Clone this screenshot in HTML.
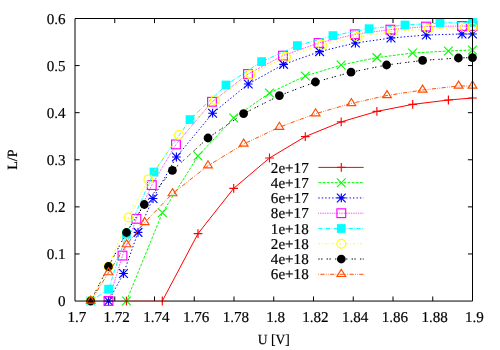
<!DOCTYPE html>
<html><head><meta charset="utf-8"><title>L/P vs U</title>
<style>
html,body{margin:0;padding:0;background:#fff;}
body{width:500px;height:350px;overflow:hidden;font-family:"Liberation Serif",serif;}
svg{display:block;will-change:transform;}
text{font-family:"Liberation Serif",serif;font-size:15.1px;fill:#000;stroke:#000;stroke-width:0.18px;text-rendering:geometricPrecision;}
</style></head><body>
<svg width="500" height="350" viewBox="0 0 500 350">
<rect width="500" height="350" fill="#fff"/>
<g text-anchor="middle"><text x="76.9" y="321.5">1.7</text><text x="116.65" y="321.5">1.72</text><text x="156.4" y="321.5">1.74</text><text x="196.15" y="321.5">1.76</text><text x="235.9" y="321.5">1.78</text><text x="275.65" y="321.5">1.8</text><text x="315.4" y="321.5">1.82</text><text x="355.15" y="321.5">1.84</text><text x="394.9" y="321.5">1.86</text><text x="434.65" y="321.5">1.88</text><text x="474.4" y="321.5">1.9</text><text transform="translate(273.75,344.4) scale(0.965,1)" style="font-size:14.1px">U [V]</text></g>
<g text-anchor="end"><text x="65.6" y="306.35">0</text><text x="65.6" y="259.26">0.1</text><text x="65.6" y="212.17">0.2</text><text x="65.6" y="165.08">0.3</text><text x="65.6" y="117.98">0.4</text><text x="65.6" y="70.89">0.5</text><text x="65.6" y="23.8">0.6</text></g>
<text transform="translate(17.2,159.6) rotate(-90)" text-anchor="middle" style="font-size:14.1px">L/P</text>
<g><text x="308.7" y="172.5" text-anchor="end">2e+17</text><path d="M318.3 167.4H363.7" stroke="#ff0000" stroke-width="1.0" fill="none"/><path d="M336.93 167.4H345.68M341.3 163.03V171.78" stroke="#ff0000" stroke-width="1.15" fill="none"/><path d="M162.3 301L198 233.6L233.7 188.4L269.5 158L305.3 136.6L341.2 121.9L376.9 111.4L412.7 104.4L448.4 100L472.5 98" stroke="#ff0000" stroke-width="1.0" fill="none" stroke-linejoin="round"/><path d="M126.45 296.62V305.38" stroke="#ff0000" stroke-width="1.15" fill="none"/><path d="M162.3 296.62V305.38" stroke="#ff0000" stroke-width="1.15" fill="none"/><path d="M193.62 233.6H202.38M198 229.22V237.97" stroke="#ff0000" stroke-width="1.15" fill="none"/><path d="M229.32 188.4H238.07M233.7 184.03V192.78" stroke="#ff0000" stroke-width="1.15" fill="none"/><path d="M265.12 158H273.88M269.5 153.62V162.38" stroke="#ff0000" stroke-width="1.15" fill="none"/><path d="M300.93 136.6H309.68M305.3 132.22V140.97" stroke="#ff0000" stroke-width="1.15" fill="none"/><path d="M336.82 121.9H345.57M341.2 117.53V126.28" stroke="#ff0000" stroke-width="1.15" fill="none"/><path d="M372.52 111.4H381.27M376.9 107.03V115.78" stroke="#ff0000" stroke-width="1.15" fill="none"/><path d="M408.32 104.4H417.07M412.7 100.03V108.78" stroke="#ff0000" stroke-width="1.15" fill="none"/><path d="M444.02 100H452.77M448.4 95.62V104.38" stroke="#ff0000" stroke-width="1.15" fill="none"/><path d="M468.12 98H476.88M472.5 93.62V102.38" stroke="#ff0000" stroke-width="1.15" fill="none"/></g>
<g><text x="308.7" y="187.77" text-anchor="end">4e+17</text><path d="M318.3 182.67H363.7" stroke="#00ff00" stroke-width="1.0" fill="none" stroke-dasharray="2.78 1.39"/><path d="M336.93 178.3L345.68 187.05M336.93 187.05L345.68 178.3" stroke="#00ff00" stroke-width="1.15" fill="none"/><path d="M126.45 301L162.4 212.8L198 156L233.7 118L269.5 93L305.3 76L341.1 65L376.9 57.6L412.6 53L448.4 51L472.5 50" stroke="#00ff00" stroke-width="1.0" fill="none" stroke-linejoin="round" stroke-dasharray="2.78 1.39"/><path d="M122.08 296.62L130.82 305.38M122.08 305.38L130.82 296.62" stroke="#00ff00" stroke-width="1.15" fill="none"/><path d="M158.03 208.43L166.78 217.18M158.03 217.18L166.78 208.43" stroke="#00ff00" stroke-width="1.15" fill="none"/><path d="M193.62 151.62L202.38 160.38M193.62 160.38L202.38 151.62" stroke="#00ff00" stroke-width="1.15" fill="none"/><path d="M229.32 113.62L238.07 122.38M229.32 122.38L238.07 113.62" stroke="#00ff00" stroke-width="1.15" fill="none"/><path d="M265.12 88.62L273.88 97.38M265.12 97.38L273.88 88.62" stroke="#00ff00" stroke-width="1.15" fill="none"/><path d="M300.93 71.62L309.68 80.38M300.93 80.38L309.68 71.62" stroke="#00ff00" stroke-width="1.15" fill="none"/><path d="M336.73 60.62L345.48 69.38M336.73 69.38L345.48 60.62" stroke="#00ff00" stroke-width="1.15" fill="none"/><path d="M372.52 53.23L381.27 61.98M372.52 61.98L381.27 53.23" stroke="#00ff00" stroke-width="1.15" fill="none"/><path d="M408.23 48.62L416.98 57.38M408.23 57.38L416.98 48.62" stroke="#00ff00" stroke-width="1.15" fill="none"/><path d="M444.02 46.62L452.77 55.38M444.02 55.38L452.77 46.62" stroke="#00ff00" stroke-width="1.15" fill="none"/><path d="M468.12 45.62L476.88 54.38M468.12 54.38L476.88 45.62" stroke="#00ff00" stroke-width="1.15" fill="none"/></g>
<g><text x="308.7" y="203.04" text-anchor="end">6e+17</text><path d="M318.3 197.94H363.7" stroke="#0000ff" stroke-width="1.0" fill="none" stroke-dasharray="1.39 2.08"/><path d="M336.93 197.94H345.68M341.3 193.56V202.31M336.93 193.56L345.68 202.31M336.93 202.31L345.68 193.56" stroke="#0000ff" stroke-width="1.15" fill="none"/><path d="M108.5 301L123.5 273.5L138 232.4L153 198.5L176.4 157L212.6 113.2L248.2 84L283.6 64.4L319.6 51.6L355.4 43L391 38L426.4 35L462 34L472.5 34" stroke="#0000ff" stroke-width="1.0" fill="none" stroke-linejoin="round" stroke-dasharray="1.39 2.08"/><path d="M104.12 301H112.88M108.5 296.62V305.38M104.12 296.62L112.88 305.38M104.12 305.38L112.88 296.62" stroke="#0000ff" stroke-width="1.15" fill="none"/><path d="M119.12 273.5H127.88M123.5 269.12V277.88M119.12 269.12L127.88 277.88M119.12 277.88L127.88 269.12" stroke="#0000ff" stroke-width="1.15" fill="none"/><path d="M133.62 232.4H142.38M138 228.03V236.78M133.62 228.03L142.38 236.78M133.62 236.78L142.38 228.03" stroke="#0000ff" stroke-width="1.15" fill="none"/><path d="M148.62 198.5H157.38M153 194.12V202.88M148.62 194.12L157.38 202.88M148.62 202.88L157.38 194.12" stroke="#0000ff" stroke-width="1.15" fill="none"/><path d="M172.03 157H180.78M176.4 152.62V161.38M172.03 152.62L180.78 161.38M172.03 161.38L180.78 152.62" stroke="#0000ff" stroke-width="1.15" fill="none"/><path d="M208.22 113.2H216.97M212.6 108.83V117.58M208.22 108.83L216.97 117.58M208.22 117.58L216.97 108.83" stroke="#0000ff" stroke-width="1.15" fill="none"/><path d="M243.82 84H252.57M248.2 79.62V88.38M243.82 79.62L252.57 88.38M243.82 88.38L252.57 79.62" stroke="#0000ff" stroke-width="1.15" fill="none"/><path d="M279.23 64.4H287.98M283.6 60.03V68.78M279.23 60.03L287.98 68.78M279.23 68.78L287.98 60.03" stroke="#0000ff" stroke-width="1.15" fill="none"/><path d="M315.23 51.6H323.98M319.6 47.23V55.98M315.23 47.23L323.98 55.98M315.23 55.98L323.98 47.23" stroke="#0000ff" stroke-width="1.15" fill="none"/><path d="M351.02 43H359.77M355.4 38.62V47.38M351.02 38.62L359.77 47.38M351.02 47.38L359.77 38.62" stroke="#0000ff" stroke-width="1.15" fill="none"/><path d="M386.62 38H395.38M391 33.62V42.38M386.62 33.62L395.38 42.38M386.62 42.38L395.38 33.62" stroke="#0000ff" stroke-width="1.15" fill="none"/><path d="M422.02 35H430.77M426.4 30.62V39.38M422.02 30.62L430.77 39.38M422.02 39.38L430.77 30.62" stroke="#0000ff" stroke-width="1.15" fill="none"/><path d="M457.62 34H466.38M462 29.62V38.38M457.62 29.62L466.38 38.38M457.62 38.38L466.38 29.62" stroke="#0000ff" stroke-width="1.15" fill="none"/><path d="M468.12 34H476.88M472.5 29.62V38.38M468.12 29.62L476.88 38.38M468.12 38.38L476.88 29.62" stroke="#0000ff" stroke-width="1.15" fill="none"/></g>
<g><text x="308.7" y="218.31" text-anchor="end">8e+17</text><path d="M318.3 213.21H363.7" stroke="#ff00ff" stroke-width="1.0" fill="none" stroke-dasharray="0.69 1.04"/><rect x="336.93" y="208.84" width="8.75" height="8.75" stroke="#ff00ff" stroke-width="1.15" fill="none"/><path d="M108.5 301L122.5 255.6L136.4 218.8L151.8 185.1L176 144.4L212 101.8L248 74L283 55.6L318.6 43L354.9 34.3L390.4 29.6L426 26.6L462 26L472.5 26" stroke="#ff00ff" stroke-width="1.0" fill="none" stroke-linejoin="round" stroke-dasharray="0.69 1.04"/><rect x="104.12" y="296.62" width="8.75" height="8.75" stroke="#ff00ff" stroke-width="1.15" fill="none"/><rect x="118.12" y="251.22" width="8.75" height="8.75" stroke="#ff00ff" stroke-width="1.15" fill="none"/><rect x="132.03" y="214.43" width="8.75" height="8.75" stroke="#ff00ff" stroke-width="1.15" fill="none"/><rect x="147.43" y="180.72" width="8.75" height="8.75" stroke="#ff00ff" stroke-width="1.15" fill="none"/><rect x="171.62" y="140.03" width="8.75" height="8.75" stroke="#ff00ff" stroke-width="1.15" fill="none"/><rect x="207.62" y="97.42" width="8.75" height="8.75" stroke="#ff00ff" stroke-width="1.15" fill="none"/><rect x="243.62" y="69.62" width="8.75" height="8.75" stroke="#ff00ff" stroke-width="1.15" fill="none"/><rect x="278.62" y="51.23" width="8.75" height="8.75" stroke="#ff00ff" stroke-width="1.15" fill="none"/><rect x="314.23" y="38.62" width="8.75" height="8.75" stroke="#ff00ff" stroke-width="1.15" fill="none"/><rect x="350.52" y="29.92" width="8.75" height="8.75" stroke="#ff00ff" stroke-width="1.15" fill="none"/><rect x="386.02" y="25.23" width="8.75" height="8.75" stroke="#ff00ff" stroke-width="1.15" fill="none"/><rect x="421.62" y="22.23" width="8.75" height="8.75" stroke="#ff00ff" stroke-width="1.15" fill="none"/><rect x="457.62" y="21.62" width="8.75" height="8.75" stroke="#ff00ff" stroke-width="1.15" fill="none"/><rect x="468.12" y="21.62" width="8.75" height="8.75" stroke="#ff00ff" stroke-width="1.15" fill="none"/></g>
<g><text x="308.7" y="233.58" text-anchor="end">1e+18</text><path d="M318.3 228.48H363.7" stroke="#00ffff" stroke-width="1.0" fill="none" stroke-dasharray="4.16 1.39 0.69 1.39"/><rect x="336.93" y="224.11" width="8.75" height="8.75" fill="#00ffff"/><path d="M90.7 301L108.6 289.2L126.4 234.2L154 172L190 119.6L226 85L261.6 61.6L297.4 45.6L333 35.6L369.1 28.7L405 25L440 23L472.5 22.4" stroke="#00ffff" stroke-width="1.0" fill="none" stroke-linejoin="round" stroke-dasharray="4.16 1.39 0.69 1.39"/><rect x="86.33" y="296.62" width="8.75" height="8.75" fill="#00ffff"/><rect x="104.22" y="284.82" width="8.75" height="8.75" fill="#00ffff"/><rect x="122.03" y="229.82" width="8.75" height="8.75" fill="#00ffff"/><rect x="149.62" y="167.62" width="8.75" height="8.75" fill="#00ffff"/><rect x="185.62" y="115.22" width="8.75" height="8.75" fill="#00ffff"/><rect x="221.62" y="80.62" width="8.75" height="8.75" fill="#00ffff"/><rect x="257.23" y="57.23" width="8.75" height="8.75" fill="#00ffff"/><rect x="293.02" y="41.23" width="8.75" height="8.75" fill="#00ffff"/><rect x="328.62" y="31.23" width="8.75" height="8.75" fill="#00ffff"/><rect x="364.73" y="24.32" width="8.75" height="8.75" fill="#00ffff"/><rect x="400.62" y="20.62" width="8.75" height="8.75" fill="#00ffff"/><rect x="435.62" y="18.62" width="8.75" height="8.75" fill="#00ffff"/><rect x="468.12" y="18.02" width="8.75" height="8.75" fill="#00ffff"/></g>
<g><text x="308.7" y="248.85" text-anchor="end">2e+18</text><path d="M318.3 243.75H363.7" stroke="#ffff00" stroke-width="1.0" fill="none" stroke-dasharray="2.08 2.08 0.69 2.08"/><circle cx="341.3" cy="243.75" r="4.38" stroke="#ffff00" stroke-width="1.15" fill="none"/><path d="M90.7 301L108.5 266.5L128.5 217.5L148.3 179.5L179 135L215 100L250.4 74.4L286 57L322 45L357.6 37L393 31.4L428.6 29L465 27.6L472.5 27.6" stroke="#ffff00" stroke-width="1.0" fill="none" stroke-linejoin="round" stroke-dasharray="2.08 2.08 0.69 2.08"/><circle cx="90.7" cy="301" r="4.38" stroke="#ffff00" stroke-width="1.15" fill="none"/><circle cx="108.5" cy="266.5" r="4.38" stroke="#ffff00" stroke-width="1.15" fill="none"/><circle cx="128.5" cy="217.5" r="4.38" stroke="#ffff00" stroke-width="1.15" fill="none"/><circle cx="148.3" cy="179.5" r="4.38" stroke="#ffff00" stroke-width="1.15" fill="none"/><circle cx="179" cy="135" r="4.38" stroke="#ffff00" stroke-width="1.15" fill="none"/><circle cx="215" cy="100" r="4.38" stroke="#ffff00" stroke-width="1.15" fill="none"/><circle cx="250.4" cy="74.4" r="4.38" stroke="#ffff00" stroke-width="1.15" fill="none"/><circle cx="286" cy="57" r="4.38" stroke="#ffff00" stroke-width="1.15" fill="none"/><circle cx="322" cy="45" r="4.38" stroke="#ffff00" stroke-width="1.15" fill="none"/><circle cx="357.6" cy="37" r="4.38" stroke="#ffff00" stroke-width="1.15" fill="none"/><circle cx="393" cy="31.4" r="4.38" stroke="#ffff00" stroke-width="1.15" fill="none"/><circle cx="428.6" cy="29" r="4.38" stroke="#ffff00" stroke-width="1.15" fill="none"/><circle cx="465" cy="27.6" r="4.38" stroke="#ffff00" stroke-width="1.15" fill="none"/><circle cx="472.5" cy="27.6" r="4.38" stroke="#ffff00" stroke-width="1.15" fill="none"/></g>
<g><text x="308.7" y="264.12" text-anchor="end">4e+18</text><path d="M318.3 259.02H363.7" stroke="#000000" stroke-width="1.0" fill="none" stroke-dasharray="1.39 1.39 1.39 4.16"/><circle cx="341.3" cy="259.02" r="4.38" fill="#000000"/><path d="M90.7 301L108.5 266.5L126.5 232.5L144.3 204.5L172.4 170.4L208 138L243.6 113.6L279.4 95.6L315.4 82L351 72.2L386.6 65L422.6 60.4L458.4 58L472.5 57.6" stroke="#000000" stroke-width="1.0" fill="none" stroke-linejoin="round" stroke-dasharray="1.39 1.39 1.39 4.16"/><circle cx="90.7" cy="301" r="4.38" fill="#000000"/><circle cx="108.5" cy="266.5" r="4.38" fill="#000000"/><circle cx="126.5" cy="232.5" r="4.38" fill="#000000"/><circle cx="144.3" cy="204.5" r="4.38" fill="#000000"/><circle cx="172.4" cy="170.4" r="4.38" fill="#000000"/><circle cx="208" cy="138" r="4.38" fill="#000000"/><circle cx="243.6" cy="113.6" r="4.38" fill="#000000"/><circle cx="279.4" cy="95.6" r="4.38" fill="#000000"/><circle cx="315.4" cy="82" r="4.38" fill="#000000"/><circle cx="351" cy="72.2" r="4.38" fill="#000000"/><circle cx="386.6" cy="65" r="4.38" fill="#000000"/><circle cx="422.6" cy="60.4" r="4.38" fill="#000000"/><circle cx="458.4" cy="58" r="4.38" fill="#000000"/><circle cx="472.5" cy="57.6" r="4.38" fill="#000000"/></g>
<g><text x="308.7" y="279.39" text-anchor="end">6e+18</text><path d="M318.3 274.29H363.7" stroke="#ff4d00" stroke-width="1.0" fill="none" stroke-dasharray="0.69 1.39 4.16 1.39 0.69 1.39"/><path d="M341.3 269.39L336.93 276.48H345.68Z" stroke="#ff4d00" stroke-width="1.15" fill="none"/><path d="M90.7 301L108.5 272.6L126.6 244.6L144.7 222.4L172.5 193.6L208 165.7L243.7 144L279.4 127.15L315.6 113.7L351.4 103.4L387 95.5L422.6 90L458.6 86L472.5 85.9" stroke="#ff4d00" stroke-width="1.0" fill="none" stroke-linejoin="round" stroke-dasharray="0.69 1.39 4.16 1.39 0.69 1.39"/><path d="M90.7 296.1L86.33 303.19H95.08Z" stroke="#ff4d00" stroke-width="1.15" fill="none"/><path d="M108.5 267.7L104.12 274.79H112.88Z" stroke="#ff4d00" stroke-width="1.15" fill="none"/><path d="M126.6 239.7L122.22 246.79H130.97Z" stroke="#ff4d00" stroke-width="1.15" fill="none"/><path d="M144.7 217.5L140.32 224.59H149.07Z" stroke="#ff4d00" stroke-width="1.15" fill="none"/><path d="M172.5 188.7L168.12 195.79H176.88Z" stroke="#ff4d00" stroke-width="1.15" fill="none"/><path d="M208 160.8L203.62 167.89H212.38Z" stroke="#ff4d00" stroke-width="1.15" fill="none"/><path d="M243.7 139.1L239.32 146.19H248.07Z" stroke="#ff4d00" stroke-width="1.15" fill="none"/><path d="M279.4 122.25L275.02 129.34H283.77Z" stroke="#ff4d00" stroke-width="1.15" fill="none"/><path d="M315.6 108.8L311.23 115.89H319.98Z" stroke="#ff4d00" stroke-width="1.15" fill="none"/><path d="M351.4 98.5L347.02 105.59H355.77Z" stroke="#ff4d00" stroke-width="1.15" fill="none"/><path d="M387 90.6L382.62 97.69H391.38Z" stroke="#ff4d00" stroke-width="1.15" fill="none"/><path d="M422.6 85.1L418.23 92.19H426.98Z" stroke="#ff4d00" stroke-width="1.15" fill="none"/><path d="M458.6 81.1L454.23 88.19H462.98Z" stroke="#ff4d00" stroke-width="1.15" fill="none"/><path d="M472.5 81L468.12 88.09H476.88Z" stroke="#ff4d00" stroke-width="1.15" fill="none"/></g>
<path d="M75 18.5H472.5V301.05H75ZM114.75 301.05v-4.6M114.75 18.5v4.6M154.5 301.05v-4.6M154.5 18.5v4.6M194.25 301.05v-4.6M194.25 18.5v4.6M234 301.05v-4.6M234 18.5v4.6M273.75 301.05v-4.6M273.75 18.5v4.6M313.5 301.05v-4.6M313.5 18.5v4.6M353.25 301.05v-4.6M353.25 18.5v4.6M393 301.05v-4.6M393 18.5v4.6M432.75 301.05v-4.6M432.75 18.5v4.6M75 253.96h4.6M472.5 253.96h-4.6M75 206.87h4.6M472.5 206.87h-4.6M75 159.78h4.6M472.5 159.78h-4.6M75 112.68h4.6M472.5 112.68h-4.6M75 65.59h4.6M472.5 65.59h-4.6" stroke="#000" stroke-width="1" fill="none"/>
<path d="M122 300.5H166.6" stroke="#ff0000" stroke-opacity="0.22" stroke-width="1" fill="none"/>
</svg>
</body></html>
